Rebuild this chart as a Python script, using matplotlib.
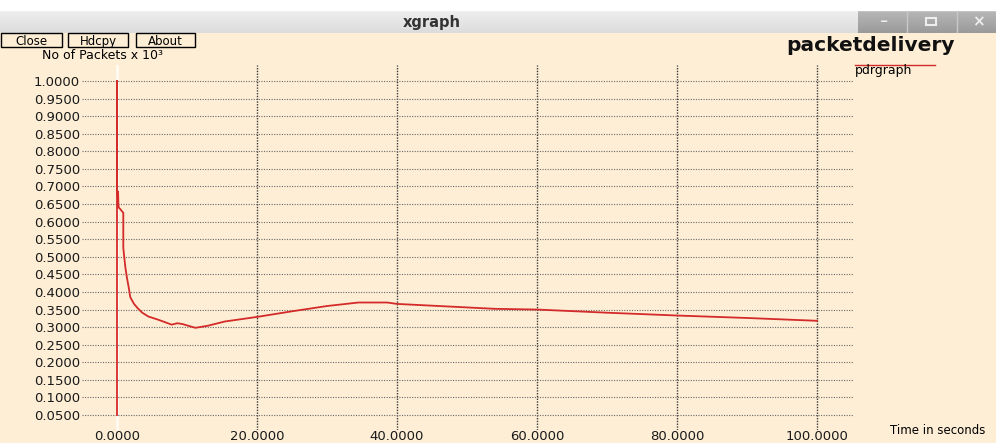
import numpy as np
import matplotlib
matplotlib.use("Agg")
import matplotlib.pyplot as plt
from matplotlib.patches import Rectangle

# packet delivery ratio over the simulation run (pdrgraph trace)
time_s = [0, 0, 0, 0.15, 0.2, 0.25, 0.5, 0.9, 0.9, 1.2, 1.45, 1.7, 1.9, 2.4, 2.9,
          3.6, 4.5, 5.9, 7.0, 7.8, 8.6, 9.3, 11.2, 13.0, 15.4, 20.0, 25.0, 30.0,
          34.5, 38.6, 40.0, 46.0, 54.0, 60.0, 70.0, 80.0, 90.0, 100.0]
pdr = [0.05, 1.0, 0.68, 0.686, 0.65, 0.64, 0.635, 0.625, 0.525, 0.469, 0.437,
       0.41, 0.385, 0.367, 0.355, 0.341, 0.33, 0.321, 0.313, 0.307, 0.311, 0.309,
       0.298, 0.304, 0.316, 0.329, 0.345, 0.36, 0.37, 0.37, 0.366, 0.36, 0.352,
       0.350, 0.341, 0.333, 0.326, 0.318]

yticks = [round(0.05 * i, 2) for i in range(1, 21)]
xticks = [0, 20, 40, 60, 80, 100]
buttons = ["Close", "Hdcpy", "About"]

W, H = 996, 443
cream = "#FDEED5"
red = "#D42A2A"
plt.rcParams["font.family"] = ["DejaVu Sans"]

fig = plt.figure(figsize=(W / 100, H / 100), dpi=100, facecolor=cream)

# window chrome, drawn in pixel coordinates
bg = fig.add_axes([0, 0, 1, 1], zorder=0)
bg.set_xlim(0, W)
bg.set_ylim(H, 0)
bg.axis("off")
bg.add_patch(Rectangle((0, 0), W, 10, color="white"))
grad = np.linspace(0, 1, 50).reshape(-1, 1)
bg.imshow(grad, cmap=matplotlib.colors.LinearSegmentedColormap.from_list(
    "bar", ["#EFEFEF", "#DCDCDC"]), extent=[0, 858, 33, 10], aspect="auto")
bg.imshow(grad, cmap=matplotlib.colors.LinearSegmentedColormap.from_list(
    "btn", ["#B8B8B8", "#9A9A9A"]), extent=[858, W, 33, 10], aspect="auto")
for sx in [907, 957]:
    bg.plot([sx, sx], [11, 32], color="#C8C8C8", lw=1)
bg.text(432, 22, "xgraph", ha="center", va="center", fontsize=10.5,
        fontweight="bold", color="#333333")
bg.text(884, 22, "_", ha="center", va="bottom", fontsize=9, color="#EDEDED",
        fontweight="bold")
bg.add_patch(Rectangle((926, 18), 10, 7, fill=False, ec="#EDEDED", lw=1.5))
bg.text(978, 22, "×", ha="center", va="center", fontsize=11, color="#EDEDED",
        fontweight="bold")
bg.set_xlim(0, W)
bg.set_ylim(H, 0)

# xgraph buttons
bx = [(1, 62), (68, 128), (136, 195)]
for (x0, x1), label in zip(bx, buttons):
    bg.add_patch(Rectangle((x0, 33), x1 - x0, 14, fill=False, ec="black", lw=1))
    bg.text((x0 + x1) / 2, 44.5, label, ha="center", va="baseline", fontsize=8.5)

bg.text(42, 59, "No of Packets x 10³", ha="left", va="baseline", fontsize=9)
bg.text(955, 45, "packetdelivery", ha="right", va="center", fontsize=14.5,
        fontweight="bold", color="#111111")
bg.plot([855, 935], [65, 65], color=red, lw=1)
bg.text(855, 70, "pdrgraph", ha="left", va="center", fontsize=9)
bg.text(890, 430, "Time in seconds", ha="left", va="center", fontsize=8.5)

# plotting area
ax = fig.add_axes([82 / W, 13 / H, 771 / W, 365 / H], zorder=1)
ax.set_facecolor("none")
for s in ax.spines.values():
    s.set_visible(False)
ax.set_xlim(-5, 105.14)
ax.set_ylim(0.0074, 1.0455)

ax.set_yticks(yticks, [f"{v:.4f}" for v in yticks])
ax.set_xticks(xticks, [f"{v:.4f}" for v in xticks])
ax.tick_params(axis="both", length=0, labelsize=9.5, colors="#1A1A1A")
ax.tick_params(axis="y", pad=1.5)
ax.tick_params(axis="x", pad=0)

ax.yaxis.grid(True, color="#6A6A6A", lw=0.8, ls=(0, (1, 1.3)))
ax.xaxis.grid(True, color="#3A3A3A", lw=1.0, ls=(0, (1, 1)))
zero_line = ax.get_xgridlines()[0]
zero_line.set_color("#FFFBF3")
zero_line.set_linestyle("-")
zero_line.set_linewidth(2)
ax.set_axisbelow(True)

ax.plot(time_s, pdr, color=red, lw=1.3, zorder=3)

fig.savefig("out.png", dpi=100, facecolor=cream)
